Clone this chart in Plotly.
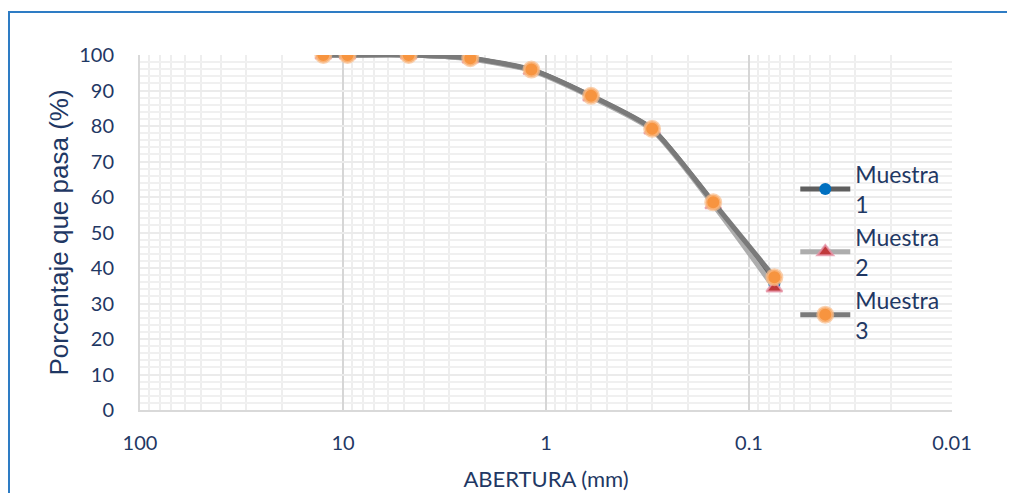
import plotly.graph_objects as go

# Data
abertura = [12.5, 9.5, 4.75, 2.36, 1.18, 0.6, 0.3, 0.15, 0.075]
muestra1 = [100, 100, 100, 99.0, 95.8, 88.4, 79.1, 58.3, 35.6]
muestra2 = [100, 100, 100, 98.9, 95.6, 88.2, 78.9, 57.8, 34.4]
muestra3 = [100, 100, 100, 99.1, 95.9, 88.5, 79.2, 58.5, 37.4]
x_tickvals = [100, 10, 1, 0.1, 0.01]
x_ticktext = ["100", "10", "1", "0.1", "0.01"]
y_tickvals = [0, 10, 20, 30, 40, 50, 60, 70, 80, 90, 100]

navy = "#1F3864"
W, H = 1015, 493
off = 8  # page body margin
ml, mt = 140 - off, 55 - off
mr = W - (952 - off)
mb = H - (410 - off)

fig = go.Figure()
fig.add_trace(go.Scatter(
    x=abertura, y=muestra1, name="Muestra<br>1", mode="lines+markers",
    line=dict(color="#5F5F5F", width=5, shape="spline", smoothing=0.6),
    marker=dict(symbol="circle", size=12, color="#0070C0"),
))
fig.add_trace(go.Scatter(
    x=abertura, y=muestra2, name="Muestra<br>2", mode="lines+markers",
    line=dict(color="#ADADAD", width=5, shape="spline", smoothing=0.6),
    marker=dict(symbol="triangle-up", size=14, color="#C0393B",
                line=dict(color="rgba(230,150,170,0.8)", width=2)),
))
fig.add_trace(go.Scatter(
    x=abertura, y=muestra3, name="Muestra<br>3", mode="lines+markers",
    line=dict(color="#7A7A7A", width=5, shape="spline", smoothing=0.6),
    marker=dict(symbol="circle", size=15, color="#F7943F",
                line=dict(color="rgba(250,190,140,0.7)", width=3)),
))

pw = W - ml - mr
ph = H - mt - mb
# outer blue frame (figure pixel left 0, top 4)
x0 = (1 - ml) / pw
y1 = (H - 4 - mb) / ph
x1 = (W + 20 - ml) / pw
y0 = (-20 - mb) / ph
fig.add_shape(type="rect", xref="paper", yref="paper", x0=x0, x1=x1, y0=y0, y1=y1,
              line=dict(color="#2E7CC4", width=2), fillcolor="rgba(0,0,0,0)", layer="below")

font_fam = "Lato, 'Noto Sans', sans-serif"
fig.update_layout(
    width=W, height=H,
    margin=dict(l=ml, r=mr, t=mt, b=mb),
    paper_bgcolor="white", plot_bgcolor="white",
    font=dict(family=font_fam, color=navy, size=20),
    showlegend=True,
    legend=dict(x=0.807, y=0.725, xanchor="left", yanchor="top",
                bgcolor="rgba(0,0,0,0)", font=dict(size=23, color=navy),
                itemwidth=50, tracegroupgap=4),
    xaxis=dict(
        type="log", range=[2, -2],
        tickvals=x_tickvals, ticktext=x_ticktext,
        showgrid=True, gridcolor="#D6D6D6", gridwidth=1.5,
        minor=dict(showgrid=True, gridcolor="#EEEEEE", gridwidth=2,
                   tickvals=[v * m for v in [10, 1, 0.1, 0.01] for m in range(2, 10)]),
        showline=True, linecolor="#D9D9D9", linewidth=2,
        zeroline=False, ticks="", ticklabelstandoff=14,
        tickfont=dict(size=20, color=navy),
        title=dict(text="ABERTURA (mm)", font=dict(size=22, color=navy), standoff=19),
    ),
    yaxis=dict(
        range=[0, 100], tickvals=y_tickvals,
        showgrid=True, gridcolor="#EBEBEB", gridwidth=2,
        minor=dict(showgrid=True, dtick=2, gridcolor="#F0F0F0", gridwidth=2),
        showline=True, linecolor="#D9D9D9", linewidth=2,
        zeroline=False, ticks="", ticklabelstandoff=20,
        tickfont=dict(size=20, color=navy),
        title=dict(text="Porcentaje que pasa (%)",
                   font=dict(size=26, color=navy, family="'Liberation Sans', Arial, sans-serif"),
                   standoff=3),
    ),
)

fig.write_html("out.html")
